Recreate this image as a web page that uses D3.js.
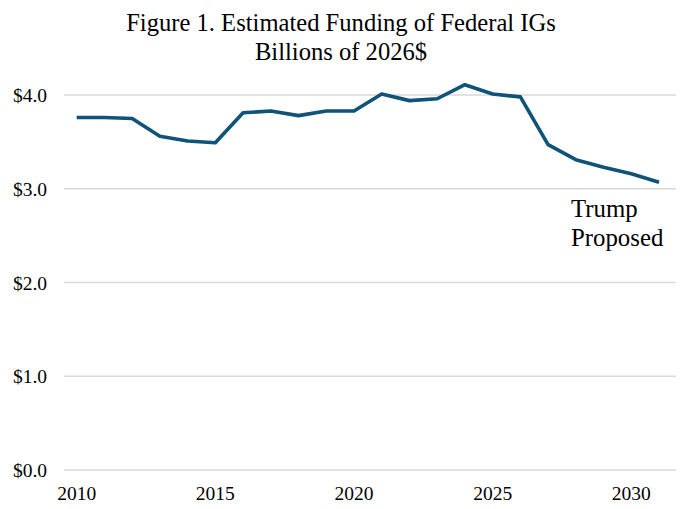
<!DOCTYPE html>
<html>
<head>
<meta charset="utf-8">
<script src="https://cdn.jsdelivr.net/npm/d3@7"></script>
<style>
  body { margin: 0; background: #fff; }
  text { font-family: "Liberation Serif", "Times New Roman", serif; fill: #000; }
</style>
</head>
<body>
<script>
var years = [2010,2011,2012,2013,2014,2015,2016,2017,2018,2019,2020,2021,2022,2023,2024,2025,2026,2027,2028,2029,2030,2031];
var funding = [3.76,3.76,3.75,3.56,3.51,3.49,3.81,3.83,3.78,3.83,3.83,4.01,3.94,3.96,4.11,4.01,3.98,3.47,3.31,3.23,3.16,3.07];
var yTicks = [0,1,2,3,4];
var xTicks = [2010,2015,2020,2025,2030];
var titleLines = ['Figure 1. Estimated Funding of Federal IGs', 'Billions of 2026$'];
var noteLines = ['Trump', 'Proposed'];

var width = 680, height = 509;
var svg = d3.select('body').append('svg').attr('width',width).attr('height',height);

var x = d3.scaleLinear().domain([2010,2031]).range([76.7,659]);
var y = d3.scaleLinear().domain([0,4]).range([470,95]);

// title
svg.selectAll('text.title')
  .data(titleLines)
  .enter().append('text')
    .attr('class','title')
    .attr('x',341)
    .attr('y',(d,i) => 31 + i*29)
    .attr('text-anchor','middle')
    .style('font-size','24.6px')
    .text(d => d);

// gridlines
svg.selectAll('line.grid')
  .data(yTicks)
  .enter().append('line')
    .attr('class','grid')
    .attr('x1',64).attr('x2',676)
    .attr('y1',d => y(d)).attr('y2',d => y(d))
    .attr('stroke','#d9d9d9')
    .attr('stroke-width',1.3);

// y labels
svg.selectAll('text.ylab')
  .data(yTicks)
  .enter().append('text')
    .attr('class','ylab')
    .attr('x',47)
    .attr('y',d => y(d) + 7)
    .attr('text-anchor','end')
    .style('font-size','19.5px')
    .text(d => '$' + d.toFixed(1));

// x labels
svg.selectAll('text.xlab')
  .data(xTicks)
  .enter().append('text')
    .attr('class','xlab')
    .attr('x',d => x(d))
    .attr('y',500)
    .attr('text-anchor','middle')
    .style('font-size','19.5px')
    .text(d => d);

// the line
var line = d3.line()
  .x((d,i) => x(years[i]))
  .y(d => y(d));

svg.append('path')
  .attr('fill','none')
  .attr('stroke','#0f5378')
  .attr('stroke-width',3.6)
  .attr('stroke-linejoin','round')
  .attr('d',line(funding));

// annotation
svg.selectAll('text.note')
  .data(noteLines)
  .enter().append('text')
    .attr('class','note')
    .attr('x',571)
    .attr('y',(d,i) => 217 + i*29)
    .style('font-size','24.8px')
    .text(d => d);
</script>
</body>
</html>
